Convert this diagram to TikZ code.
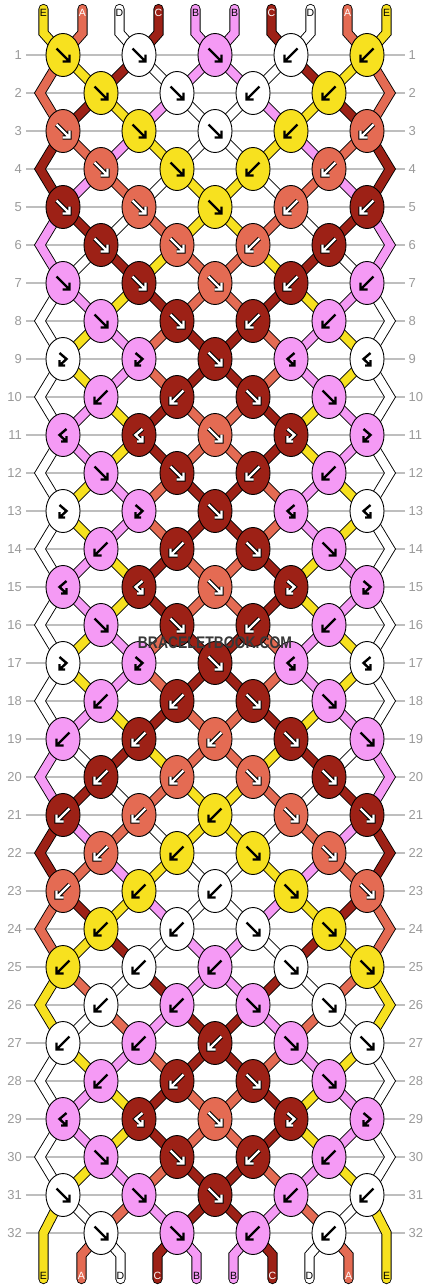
\documentclass[tikz,border=0pt]{standalone}
\usepackage{fontspec}
\setmainfont{Liberation Sans}
\usepackage{graphicx}
\usetikzlibrary{shapes.geometric}

\definecolor{colE}{HTML}{F7E11F}
\definecolor{colA}{HTML}{E46B53}
\definecolor{colD}{HTML}{FFFFFF}
\definecolor{colC}{HTML}{9D2116}
\definecolor{colB}{HTML}{F59AF5}
\colorlet{inkE}{black}\colorlet{inkD}{black}\colorlet{inkB}{black}
\colorlet{inkA}{white}\colorlet{inkC}{white}
\colorlet{rimE}{colE}\colorlet{rimD}{colD}\colorlet{rimB}{colB}
\colorlet{rimA}{black}\colorlet{rimC}{black}
\definecolor{rowgray}{HTML}{BEBEBE}
\definecolor{numgray}{HTML}{9A9A9A}
\definecolor{markgray}{HTML}{383838}

\pgfdeclarelayer{grid}
\pgfdeclarelayer{strands}
\pgfsetlayers{grid,strands,main}

\tikzset{
  knot/.style={ellipse, draw=black, line width=0.9pt, fill=col#1,
    minimum width=34pt, minimum height=43pt, inner sep=0pt},
  strand/.style={draw=black, line width=0.9pt, double=col#1,
    double distance=8.4pt, line join=miter},
  glyph/.style={preaction={draw=rim#1, line width=4.4pt}, draw=ink#1, line width=2.4pt},
  fw/.style={insert path={(-6.5,-6.5) -- (6.5,6.5) (6.5,-0.5) -- (6.5,6.5) -- (-0.5,6.5)}},
  bw/.style={insert path={(6.5,-6.5) -- (-6.5,6.5) (-6.5,-0.5) -- (-6.5,6.5) -- (0.5,6.5)}},
  fb/.style={insert path={(-3.5,-6) -- (3.5,0) -- (-3.5,6.5) (-3.5,1) -- (-3.5,6.5) -- (2,6.5)}},
  bf/.style={insert path={(3.5,-6) -- (-3.5,0) -- (3.5,6.5) (3.5,1) -- (3.5,6.5) -- (-2,6.5)}},
  tag/.style={text=ink#1, font=\fontsize{10.5}{10.5}\selectfont, inner sep=0pt},
  rowno/.style={text=numgray, font=\fontsize{13}{13}\selectfont, inner sep=0pt},
  rowline/.style={draw=rowgray, line width=1.3pt, shorten <=4pt, shorten >=4pt},
  wmark/.style={font=\fontsize{16.8}{17}\selectfont\bfseries, inner sep=1pt},
}

\begin{document}
\begin{tikzpicture}[x=1pt, y=-1pt]
  \useasboundingbox (0,0) rectangle (430,1288);
  \begin{pgfonlayer}{grid}
    \fill[white] (0,0) rectangle (430,1288);
  \end{pgfonlayer}

  %% numeri delle righe
  \foreach \r in {1,...,32} {
    \pgfmathsetmacro\y{55+38*(\r-1)}
    \node[rowno, anchor=east] (nl\r) at (22,\y) {\r};
    \node[rowno, anchor=west] (nr\r) at (408.5,\y) {\r};
    \begin{pgfonlayer}{grid}
      \draw[rowline] (nl\r.east) -- (nr\r.west);
    \end{pgfonlayer}
    \ifodd\r\else
      \coordinate (e\r-1) at (40,\y);
      \coordinate (e\r-10) at (390,\y);
    \fi
  }

  %% nodi: colore/tipo
  \foreach \r/\row in {
    1/{E/fw,D/fw,B/fw,D/bw,E/bw},
    2/{E/fw,D/fw,D/bw,E/bw},
    3/{A/fw,E/fw,D/fw,E/bw,A/bw},
    4/{A/fw,E/fw,E/bw,A/bw},
    5/{C/fw,A/fw,E/fw,A/bw,C/bw},
    6/{C/fw,A/fw,A/bw,C/bw},
    7/{B/fw,C/fw,A/fw,C/bw,B/bw},
    8/{B/fw,C/fw,C/bw,B/bw},
    9/{D/fb,B/fb,C/fw,B/bf,D/bf},
    10/{B/bw,C/bw,C/fw,B/fw},
    11/{B/bf,C/bf,A/fw,C/fb,B/fb},
    12/{B/fw,C/fw,C/bw,B/bw},
    13/{D/fb,B/fb,C/fw,B/bf,D/bf},
    14/{B/bw,C/bw,C/fw,B/fw},
    15/{B/bf,C/bf,A/fw,C/fb,B/fb},
    16/{B/fw,C/fw,C/bw,B/bw},
    17/{D/fb,B/fb,C/fw,B/bf,D/bf},
    18/{B/bw,C/bw,C/fw,B/fw},
    19/{B/bw,C/bw,A/bw,C/fw,B/fw},
    20/{C/bw,A/bw,A/fw,C/fw},
    21/{C/bw,A/bw,E/bw,A/fw,C/fw},
    22/{A/bw,E/bw,E/fw,A/fw},
    23/{A/bw,E/bw,D/bw,E/fw,A/fw},
    24/{E/bw,D/bw,D/fw,E/fw},
    25/{E/bw,D/bw,B/bw,D/fw,E/fw},
    26/{D/bw,B/bw,B/fw,D/fw},
    27/{D/bw,B/bw,C/bw,B/fw,D/fw},
    28/{B/bw,C/bw,C/fw,B/fw},
    29/{B/bf,C/bf,A/fw,C/fb,B/fb},
    30/{B/fw,C/fw,C/bw,B/bw},
    31/{D/fw,B/fw,C/fw,B/bw,D/bw},
    32/{D/fw,B/fw,B/bw,D/bw}} {
    \pgfmathsetmacro\y{55+38*(\r-1)}
    \pgfmathsetmacro\xo{ifthenelse(mod(\r,2)==1,63,101)}
    \foreach \kc/\kt [count=\i] in \row {
      \node[knot=\kc] (k\r-\i) at (\xo+76*\i-76,\y) {};
      \path[glyph=\kc, shift={(k\r-\i.center)}, \kt];
    }
  }

  %% fili in alto e in basso
  \foreach \kc [count=\p] in {E,A,D,C,B,B,C,D,A,E} {
    \pgfmathsetmacro\xt{63+76*int((\p-1)/2)+ifthenelse(mod(\p,2)==1,-19.5,19.5)}
    \pgfmathsetmacro\xb{ifthenelse(\p==1,43.5,ifthenelse(\p==10,386.5,25+76*int(\p/2)+ifthenelse(mod(\p,2)==0,-19.5,19.5)))}
    \coordinate (top\p) at (\xt,9);
    \coordinate (bot\p) at (\xb,1279);
    \node[tag=\kc] (lt\p) at (\xt,13) {\kc};
    \node[tag=\kc] (lb\p) at (\xb,1275.5) {\kc};
  }

  %% fili: ordine dei colori dopo ogni riga
  \begin{pgfonlayer}{strands}
  \foreach \r/\s in {
    0/{E,A,D,C,B,B,C,D,A,E},
    1/{A,E,C,D,B,B,D,C,E,A},
    2/{A,C,E,B,D,D,B,E,C,A},
    3/{C,A,B,E,D,D,E,B,A,C},
    4/{C,B,A,D,E,E,D,A,B,C},
    5/{B,C,D,A,E,E,A,D,C,B},
    6/{B,D,C,E,A,A,E,C,D,B},
    7/{D,B,E,C,A,A,C,E,B,D},
    8/{D,E,B,A,C,C,A,B,E,D},
    9/{D,E,B,A,C,C,A,B,E,D},
    10/{D,B,E,C,A,A,C,E,B,D},
    11/{D,B,E,C,A,A,C,E,B,D},
    12/{D,E,B,A,C,C,A,B,E,D},
    13/{D,E,B,A,C,C,A,B,E,D},
    14/{D,B,E,C,A,A,C,E,B,D},
    15/{D,B,E,C,A,A,C,E,B,D},
    16/{D,E,B,A,C,C,A,B,E,D},
    17/{D,E,B,A,C,C,A,B,E,D},
    18/{D,B,E,C,A,A,C,E,B,D},
    19/{B,D,C,E,A,A,E,C,D,B},
    20/{B,C,D,A,E,E,A,D,C,B},
    21/{C,B,A,D,E,E,D,A,B,C},
    22/{C,A,B,E,D,D,E,B,A,C},
    23/{A,C,E,B,D,D,B,E,C,A},
    24/{A,E,C,D,B,B,D,C,E,A},
    25/{E,A,D,C,B,B,C,D,A,E},
    26/{E,D,A,B,C,C,B,A,D,E},
    27/{D,E,B,A,C,C,A,B,E,D},
    28/{D,B,E,C,A,A,C,E,B,D},
    29/{D,B,E,C,A,A,C,E,B,D},
    30/{D,E,B,A,C,C,A,B,E,D},
    31/{E,D,A,B,C,C,B,A,D,E},
    32/{E,A,D,C,B,B,C,D,A,E}} {
    \pgfmathtruncatemacro\rn{\r+1}
    \pgfmathtruncatemacro\rnn{\r+2}
    \pgfmathtruncatemacro\rodd{mod(\r,2)}
    \foreach \kc [count=\p] in \s {
      \pgfmathtruncatemacro\ko{int((\p+1)/2)}
      \pgfmathtruncatemacro\ke{int(\p/2)}
      \pgfmathtruncatemacro\inside{(\p>1)&&(\p<10)}
      \ifnum\r=0
        \draw[strand=\kc, line cap=round] (top\p) -- ++(0,24) -- (k1-\ko.center);
      \else\ifnum\r=32
        \ifnum\inside=1
          \draw[strand=\kc, line cap=round] (bot\p) -- ++(0,-24) -- (k32-\ke.center);
        \else
          \draw[strand=\kc, line cap=round] (bot\p) -- ++(0,-46) -- (k31-\ko.center);
        \fi
      \else
        \ifnum\inside=1
          \ifnum\rodd=1
            \draw[strand=\kc] (k\r-\ko.center) -- (k\rn-\ke.center);
          \else
            \draw[strand=\kc] (k\r-\ke.center) -- (k\rn-\ko.center);
          \fi
        \else\ifnum\rodd=1 \ifnum\r<31
          \draw[strand=\kc] (k\r-\ko.center) -- (e\rn-\p) -- (k\rnn-\ko.center);
        \fi\fi\fi
      \fi\fi
    }
  }
  \end{pgfonlayer}

  %% scritta
  \node[wmark, text=markgray] (wm) at (215,643) {\scalebox{0.83}[1]{BRACELETBOOK.COM}};
\end{tikzpicture}
\end{document}
